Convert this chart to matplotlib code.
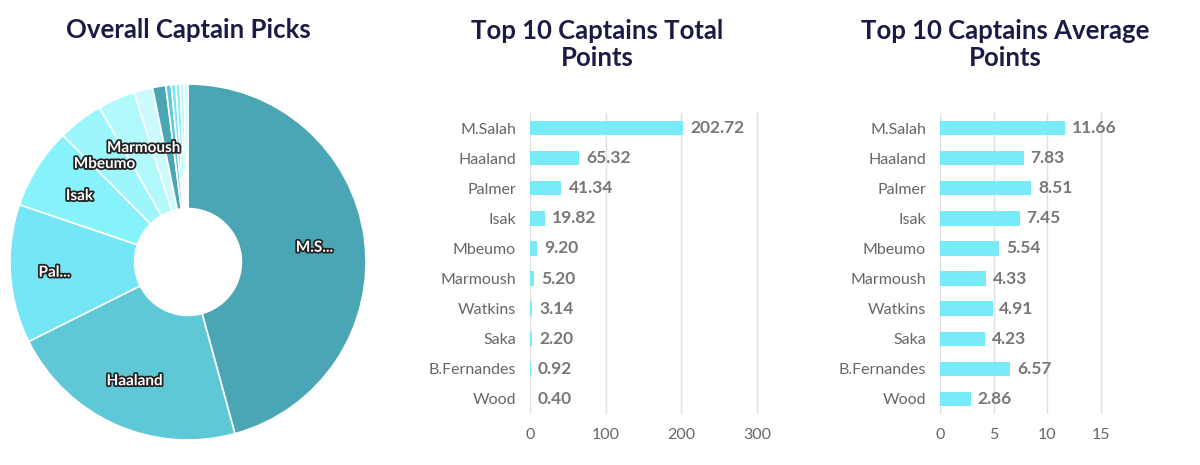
import numpy as np
import matplotlib.pyplot as plt
import matplotlib.patheffects as pe

plt.rcParams["font.family"] = "Lato"

pie_labels = ["M.S...", "Haaland", "Pal...", "Isak", "Mbeumo", "Marmoush", "", "", "", "", "", "", ""]
pie_values = [45.8, 21.9, 12.6, 7.4, 4.1, 3.4, 1.7, 1.2, 0.5, 0.4, 0.4, 0.35, 0.35]
pie_colors = ["#4aa6b5", "#5ec8d6", "#74e6f5", "#88f2fa", "#9cf6fb", "#b2f9fc",
              "#cdfbfd", "#4aa6b5", "#5ec8d6", "#74e6f5", "#88f2fa", "#b2f9fc", "#cdfbfd"]

players = ["M.Salah", "Haaland", "Palmer", "Isak", "Mbeumo", "Marmoush", "Watkins",
           "Saka", "B.Fernandes", "Wood"]
total_points = [202.72, 65.32, 41.34, 19.82, 9.20, 5.20, 3.14, 2.20, 0.92, 0.40]
avg_points = [11.66, 7.83, 8.51, 7.45, 5.54, 4.33, 4.91, 4.23, 6.57, 2.86]

navy = "#1c1b45"
bar_color = "#78ebf8"
txt = "#666666"

fig = plt.figure(figsize=(12, 4.65), dpi=100)

# donut
ax0 = fig.add_axes([10 / 1200, 25 / 465, 356 / 1200, 356 / 465])
ax0.pie(pie_values, colors=pie_colors, startangle=90, counterclock=False, radius=1,
        wedgeprops=dict(width=0.7, edgecolor="white", linewidth=1.2))
ax0.set_xlim(-1, 1)
ax0.set_ylim(-1, 1)
# label spots inside the slices (axes coords of the donut)
label_pos = {"M.S...": (0.71, 0.08), "Haaland": (-0.30, -0.67), "Pal...": (-0.75, -0.06),
             "Isak": (-0.61, 0.37), "Mbeumo": (-0.47, 0.55), "Marmoush": (-0.25, 0.64)}
for lab in pie_labels:
    if not lab:
        continue
    x, y = label_pos[lab]
    t = ax0.text(x, y, lab, ha="center", va="center", color="white", fontsize=11, fontweight="bold")
    t.set_path_effects([pe.withStroke(linewidth=2.5, foreground="#222222")])
fig.text(0.157, 0.935, "Overall Captain Picks", ha="center", va="center",
         fontsize=18.5, fontweight="bold", color=navy)


def bar_panel(x0, width, vals, xmax, ticks, title, title_x):
    ax = fig.add_axes([x0 / 1200, 51 / 465, width / 1200, 301 / 465])
    y = np.arange(len(players))
    ax.barh(y, vals, color=bar_color, height=0.48)
    ax.set_yticks(y)
    ax.set_yticklabels(players, fontsize=11.5, color=txt)
    ax.set_xlim(0, xmax)
    ax.set_xticks(ticks)
    ax.tick_params(axis="x", labelsize=11.5, colors=txt, length=0, pad=10)
    ax.tick_params(axis="y", length=0, pad=10)
    ax.grid(axis="x", color="#e0e0e0", linewidth=1)
    ax.set_axisbelow(True)
    for s in ax.spines.values():
        s.set_visible(False)
    for yi, v in zip(y, vals):
        ax.text(v + xmax * 0.03, yi, f"{v:.2f}", va="center", ha="left",
                fontsize=12.5, fontweight="bold", color="#777777")
    ax.set_ylim(len(players) - 0.5, -0.5)
    fig.text(title_x / 1200, 0.905, title, ha="center", va="center",
             fontsize=18.5, fontweight="bold", color=navy, linespacing=1.15)
    return ax


bar_panel(530, 245, total_points, 324, [0, 100, 200, 300], "Top 10 Captains Total\nPoints", 597)
bar_panel(940, 225, avg_points, 21, [0, 5, 10, 15], "Top 10 Captains Average\nPoints", 1005)

fig.savefig("out.png", dpi=100, facecolor="white")
